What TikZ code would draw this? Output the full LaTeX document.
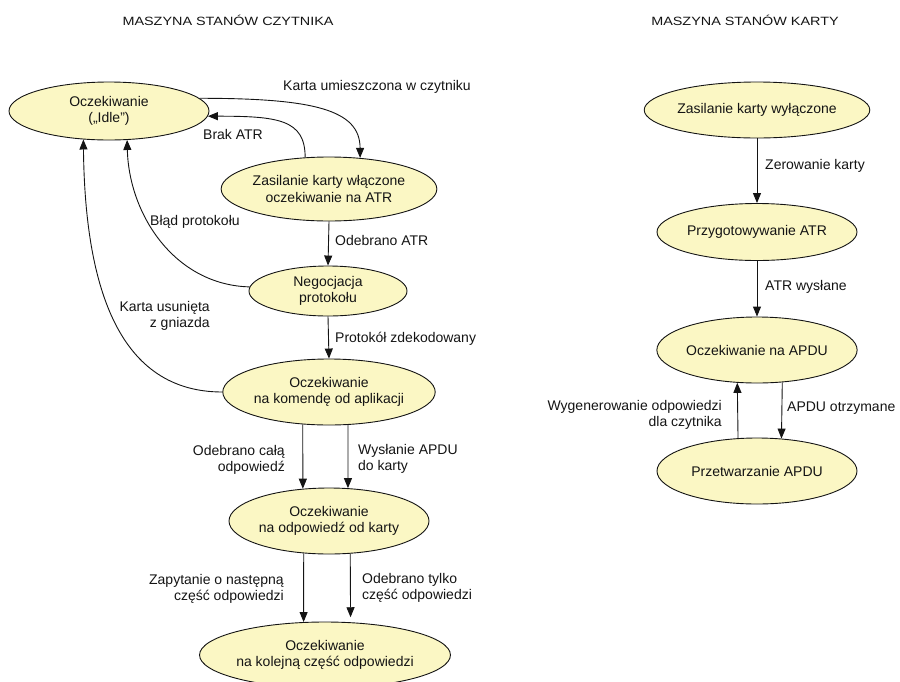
\documentclass[tikz,border=0pt]{standalone}
\usepackage{fontspec}
\setmainfont{Liberation Sans}
\newfontfamily\headfont[FakeStretch=1.2]{Liberation Sans}
\usetikzlibrary{shapes.geometric,arrows.meta}
\definecolor{statefill}{RGB}{251,247,196}
\definecolor{ink}{RGB}{20,20,20}
\begin{document}
\begin{tikzpicture}[x=1pt,y=-1pt,
  every node/.style={font=\fontsize{14}{16.5}\selectfont, text=ink},
  state/.style={ellipse, draw=ink, line width=0.9pt, fill=statefill,
    inner sep=0pt, align=center},
  arr/.style={draw=ink, line width=0.9pt, -{Triangle[length=10pt,width=8pt]}},
  lbl/.style={inner sep=0pt},
  head/.style={font=\headfont\fontsize{12}{14}\selectfont, inner sep=0pt}]
\useasboundingbox (0,0) rectangle (900,681);

% headings
\node[head] (h1) at (228,20) {MASZYNA STANÓW CZYTNIKA};
\node[head] (h2) at (745,20) {MASZYNA STANÓW KARTY};

% reader state machine
\node[state, minimum width=200pt, minimum height=58pt] (idle) at (109,111) {Oczekiwanie\\(„Idle”)};
\node[state, minimum width=200pt, minimum height=64pt] (zon) at (329,189) {Zasilanie karty włączone\\oczekiwanie na ATR};
\node[state, minimum width=158pt, minimum height=50pt] (neg) at (328,291) {Negocjacja\\protokołu};
\node[state, minimum width=200pt, minimum height=66pt] (kom) at (329,392) {Oczekiwanie\\na komendę od aplikacji};
\node[state, minimum width=200pt, minimum height=66pt] (odp) at (329,521) {Oczekiwanie\\na odpowiedź od karty};
\node[state, minimum width=236pt, minimum height=66pt] (kol) at (325,655) {Oczekiwanie\\na kolejną część odpowiedzi};

% card state machine
\node[state, minimum width=200pt, minimum height=56pt] (zoff) at (757,110) {Zasilanie karty wyłączone};
\node[state, minimum width=200pt, minimum height=57pt] (prep) at (757,232) {Przygotowywanie ATR};
\node[state, minimum width=200pt, minimum height=66pt] (wait) at (757,350) {Oczekiwanie na APDU};
\node[state, minimum width=200pt, minimum height=66pt] (proc) at (757,471) {Przetwarzanie APDU};

% reader transitions
\draw[arr] (idle.8) .. controls +(115,0) and +(0,-48) .. (zon.45);
\draw[arr] (zon.127) .. controls +(0,-38) and +(70,0) .. (idle.-3);
\draw[arr] (zon.south) -- (neg.north);
\draw[arr] (neg.177) .. controls (175,285) and (129,215) .. (idle.-58);
\draw[arr] (kom.west) .. controls (120,392) and (85,290) .. (idle.228);
\draw[arr] (neg.south) -- (kom.north);
\draw[arr] (kom.231) -- (odp.129);
\draw[arr] (kom.-60) -- (odp.60);
\draw[arr] (odp.232) -- (kol.123);
\draw[arr, shorten >=5pt] (odp.-57) -- (kol.52);

% card transitions
\draw[arr] (zoff.south) -- (prep.north);
\draw[arr] (prep.south) -- (wait.north);
\draw[arr] (wait.-52) -- (proc.53);
\draw[arr] (proc.120) -- (wait.239);

% transition labels
\node[lbl, anchor=west] (l1) at (283,87) {Karta umieszczona w czytniku};
\node[lbl, anchor=west] (l2) at (203,134) {Brak ATR};
\node[lbl, anchor=west] (l3) at (335,240) {Odebrano ATR};
\node[lbl, anchor=west] (l4) at (150,222) {Błąd protokołu};
\node[lbl, anchor=east, align=right] (l5) at (210,316) {Karta usunięta\\z gniazda};
\node[lbl, anchor=west] (l6) at (335,339) {Protokół zdekodowany};
\node[lbl, anchor=east, align=right] (l7) at (285,460) {Odebrano całą\\odpowiedź};
\node[lbl, anchor=west, align=left] (l8) at (358,459) {Wysłanie APDU\\do karty};
\node[lbl, anchor=east, align=right] (l9) at (284,589) {Zapytanie o następną\\część odpowiedzi};
\node[lbl, anchor=west, align=left] (l10) at (362,588) {Odebrano tylko\\część odpowiedzi};
\node[lbl, anchor=west] (l11) at (765,166) {Zerowanie karty};
\node[lbl, anchor=west] (l12) at (765,287) {ATR wysłane};
\node[lbl, anchor=east, align=right] (l13) at (722,415) {Wygenerowanie odpowiedzi\\dla czytnika};
\node[lbl, anchor=west] (l14) at (787,408) {APDU otrzymane};
\end{tikzpicture}
\end{document}
